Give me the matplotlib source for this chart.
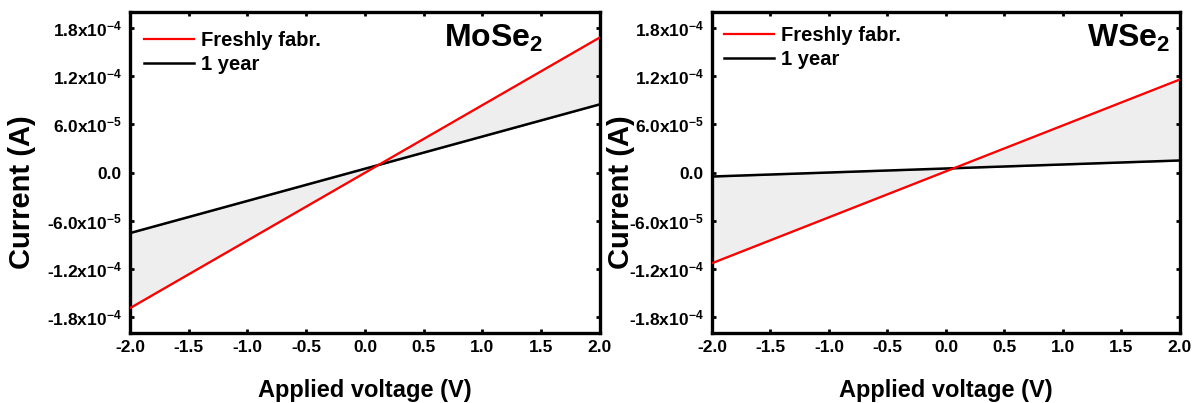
import matplotlib
matplotlib.use("Agg")
import matplotlib.pyplot as plt
from matplotlib.ticker import FixedLocator, FixedFormatter

plt.rcParams["font.family"] = ["Liberation Sans", "DejaVu Sans"]
plt.rcParams["font.weight"] = "bold"
plt.rcParams["mathtext.fontset"] = "custom"
plt.rcParams["mathtext.rm"] = "Liberation Sans:bold"
plt.rcParams["mathtext.it"] = "Liberation Sans:bold"
plt.rcParams["mathtext.bf"] = "Liberation Sans:bold"
plt.rcParams["mathtext.default"] = "rm"
plt.rcParams["axes.unicode_minus"] = False

# I-V sweep end points (V, A)
voltage = [-2.0, 2.0]
mose2_fresh = [-1.69e-4, 1.685e-4]
mose2_aged = [-7.55e-5, 8.5e-5]
wse2_fresh = [-1.13e-4, 1.16e-4]
wse2_aged = [-5.0e-6, 1.5e-5]

series_labels = ["Freshly fabr.", "1 year"]
panel_titles = ["MoSe$_2$", "WSe$_2$"]

x_ticks = [-2.0, -1.5, -1.0, -0.5, 0.0, 0.5, 1.0, 1.5, 2.0]
x_tick_labels = ["-2.0", "-1.5", "-1.0", "-0.5", "0.0", "0.5", "1.0", "1.5", "2.0"]
y_ticks = [-1.8e-4, -1.2e-4, -6.0e-5, 0.0, 6.0e-5, 1.2e-4, 1.8e-4]
y_tick_labels = ["-1.8x10$^{-4}$", "-1.2x10$^{-4}$", "-6.0x10$^{-5}$", "0.0",
                 "6.0x10$^{-5}$", "1.2x10$^{-4}$", "1.8x10$^{-4}$"]

fig = plt.figure(figsize=(12, 4.03), dpi=100)
ax_l = fig.add_axes([0.1083, 0.1737, 0.3917, 0.7965])
ax_r = fig.add_axes([0.5933, 0.1737, 0.3900, 0.7965])

panels = [
    (ax_l, mose2_fresh, mose2_aged, panel_titles[0], (0.879, 0.965), -0.20, (0.0, 0.985)),
    (ax_r, wse2_fresh, wse2_aged, panel_titles[1], (0.979, 0.965), -0.165, (-0.005, 1.0)),
]

for ax, fresh, aged, title, tpos, ylab_x, leg_anchor in panels:
    ax.fill_between(voltage, fresh, aged, facecolor="#eeeeee",
                    edgecolor="#9a9a9a", linewidth=0.8, zorder=1)
    ax.plot(voltage, fresh, color="#ff0000", lw=1.6, label=series_labels[0], zorder=3)
    ax.plot(voltage, aged, color="black", lw=1.8, label=series_labels[1], zorder=2)

    ax.set_xlim(-2.0, 2.0)
    ax.set_ylim(-2.0e-4, 2.0e-4)
    ax.xaxis.set_major_locator(FixedLocator(x_ticks))
    ax.xaxis.set_major_formatter(FixedFormatter(x_tick_labels))
    ax.yaxis.set_major_locator(FixedLocator(y_ticks))
    ax.yaxis.set_major_formatter(FixedFormatter(y_tick_labels))
    ax.tick_params(direction="in", length=3, width=2, top=True, right=True,
                   labelsize=12.5, pad=5)
    ax.tick_params(axis="y", pad=6)
    for lab in ax.get_xticklabels() + ax.get_yticklabels():
        lab.set_fontweight("bold")
    for sp in ax.spines.values():
        sp.set_linewidth(2.4)

    ax.set_xlabel("Applied voltage (V)", fontsize=17, fontweight="bold")
    ax.set_ylabel("Current (A)", fontsize=21, fontweight="bold")
    ax.xaxis.set_label_coords(0.5, -0.143)
    ax.yaxis.set_label_coords(ylab_x, 0.44)

    ax.text(tpos[0], tpos[1], title, transform=ax.transAxes, ha="right", va="top",
            fontsize=23, fontweight="bold")

    ax.legend(loc="upper left", bbox_to_anchor=leg_anchor, frameon=False,
              handlelength=2.5, handletextpad=0.35,
              labelspacing=0.25, borderaxespad=0.3,
              prop={"size": 14.5, "weight": "bold"})

fig.savefig("out.png", dpi=100)
